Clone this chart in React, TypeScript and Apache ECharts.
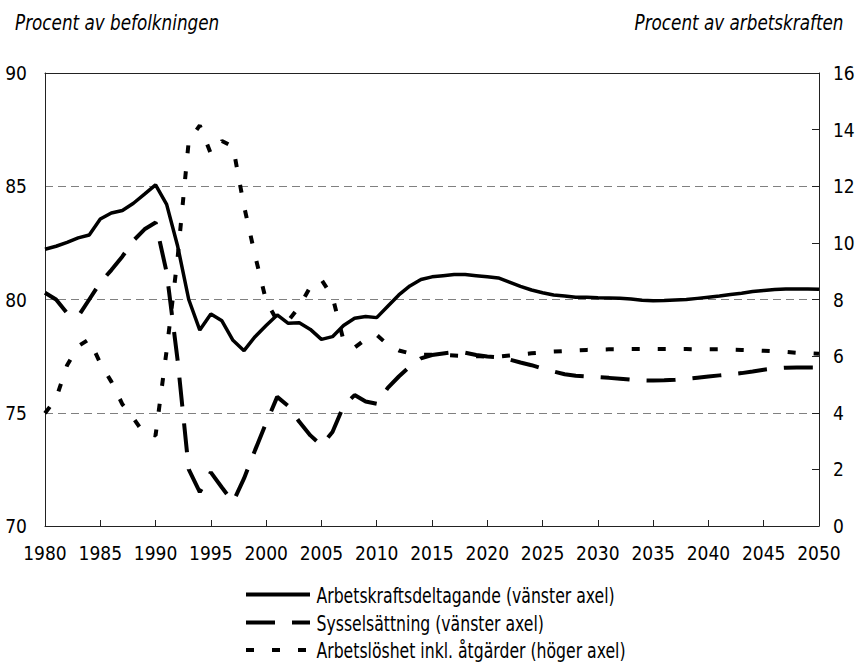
import React, { useEffect, useRef } from "react";
import * as echarts from "echarts";

const years = [
  1980, 1981, 1982, 1983, 1984, 1985, 1986, 1987, 1988, 1989,
  1990, 1991, 1992, 1993, 1994, 1995, 1996, 1997, 1998, 1999,
  2000, 2001, 2002, 2003, 2004, 2005, 2006, 2007, 2008, 2009,
  2010, 2011, 2012, 2013, 2014, 2015, 2016, 2017, 2018, 2019,
  2020, 2021, 2022, 2023, 2024, 2025, 2026, 2027, 2028, 2029,
  2030, 2031, 2032, 2033, 2034, 2035, 2036, 2037, 2038, 2039,
  2040, 2041, 2042, 2043, 2044, 2045, 2046, 2047, 2048, 2049,
  2050,
];

// Arbetskraftsdeltagande (vänster axel)
const participation = [
  82.22, 82.35, 82.52, 82.72, 82.85, 83.55, 83.82, 83.93, 84.25, 84.65,
  85.06, 84.2, 82.35, 80.0, 78.65, 79.36, 79.06, 78.2, 77.74, 78.36,
  78.85, 79.32, 78.95, 78.97, 78.68, 78.24, 78.36, 78.85, 79.17, 79.25,
  79.2, 79.7, 80.2, 80.6, 80.88, 81.0, 81.05, 81.1, 81.1, 81.05,
  81.0, 80.95, 80.77, 80.58, 80.42, 80.3, 80.2, 80.15, 80.1, 80.1,
  80.08, 80.07, 80.05, 80.02, 79.97, 79.95, 79.96, 79.98, 80.0, 80.05,
  80.1, 80.15, 80.22, 80.28, 80.35, 80.4, 80.44, 80.46, 80.46, 80.46,
  80.45,
];

// Sysselsättning (vänster axel)
const employment = [
  80.3, 80.0, 79.4, 79.25, 80.0, 80.75, 81.3, 81.9, 82.6, 83.1,
  83.4, 81.2, 77.3, 72.5, 71.5, 72.37, 71.7, 71.05, 72.1, 73.35,
  74.55, 75.7, 75.3, 74.6, 74.0, 73.55, 74.15, 75.3, 75.78, 75.5,
  75.4, 76.1, 76.6, 77.05, 77.4, 77.55, 77.62, 77.68, 77.65, 77.55,
  77.48, 77.45, 77.35, 77.22, 77.1, 76.95, 76.82, 76.7, 76.63, 76.6,
  76.57, 76.54, 76.5, 76.46, 76.43, 76.42, 76.43, 76.46, 76.5, 76.55,
  76.6, 76.65, 76.7, 76.75, 76.82, 76.9, 76.96, 76.99, 77.0, 77.0,
  77.0,
];

// Arbetslöshet inkl. åtgärder (höger axel)
const unemployment = [
  3.98, 4.5, 5.68, 6.35, 6.6, 5.75, 5.1, 4.3, 3.8, 3.25,
  3.2, 6.2, 9.5, 13.6, 14.15, 13.15, 13.6, 13.4, 11.3, 9.55,
  7.95, 7.25, 7.25, 7.75, 8.45, 8.7, 8.1, 6.55, 6.3, 6.6,
  6.75, 6.4, 6.2, 6.1, 6.05, 6.05, 6.04, 6.02, 6.0, 6.0,
  5.98, 5.98, 6.02, 6.06, 6.1, 6.13, 6.16, 6.18, 6.2, 6.22,
  6.23, 6.24, 6.24, 6.25, 6.25, 6.25, 6.25, 6.25, 6.25, 6.24,
  6.24, 6.24, 6.23, 6.22, 6.21, 6.19, 6.17, 6.15, 6.12, 6.1,
  6.08,
];

const seriesNames = [
  "Arbetskraftsdeltagande (vänster axel)",
  "Sysselsättning (vänster axel)",
  "Arbetslöshet inkl. åtgärder (höger axel)",
];

const leftTitle = "Procent av befolkningen";
const rightTitle = "Procent av arbetskraften";

const FONT = '"DejaVu Sans Condensed", "DejaVu Sans", sans-serif';
const AXIS_COLOR = "#222";

const lineTypes: any[] = ["solid", [29, 17], [8, 18]];
const lineWidths = [3.5, 4, 4];

export default function App() {
  const ref = useRef<HTMLDivElement>(null);

  useEffect(() => {
    if (!ref.current) return;
    const chart = echarts.init(ref.current, undefined, { renderer: "svg" });
    const pairs = (vals: number[]) => years.map((y, i) => [y, vals[i]]);

    const labelStyle = {
      color: "#000",
      fontFamily: FONT,
      fontSize: 19,
    };

    const legendRowsY = [594.5, 622.5, 650];
    const legendGraphics: any[] = [];
    seriesNames.forEach((name, i) => {
      legendGraphics.push({
        type: "line",
        shape: { x1: 246, y1: legendRowsY[i], x2: 310, y2: legendRowsY[i] },
        style: {
          stroke: "#000",
          lineWidth: 4,
          lineDash: lineTypes[i] === "solid" ? null : lineTypes[i],
          lineCap: "butt",
        },
        silent: true,
      });
      legendGraphics.push({
        type: "text",
        x: 316.5,
        y: legendRowsY[i] + 0.5,
        scaleX: 0.85,
        style: {
          text: name,
          fill: "#000",
          fontFamily: FONT,
          fontSize: 20.5,
          lineHeight: 20,
          textAlign: "left",
          verticalAlign: "middle",
        },
        silent: true,
      });
    });

    chart.setOption({
      animation: false,
      backgroundColor: "#fff",
      graphic: [
        {
          type: "text",
          x: 15,
          y: 22.7,
          scaleX: 0.89,
          style: {
            text: leftTitle,
            fill: "#000",
            fontFamily: FONT,
            fontSize: 21,
            fontStyle: "italic",
            textAlign: "left",
            verticalAlign: "middle",
          },
          silent: true,
        },
        {
          type: "text",
          x: 843.5,
          y: 22.7,
          scaleX: 0.89,
          style: {
            text: rightTitle,
            fill: "#000",
            fontFamily: FONT,
            fontSize: 21,
            fontStyle: "italic",
            textAlign: "right",
            verticalAlign: "middle",
          },
          silent: true,
        },
        ...legendGraphics,
      ],
      grid: {
        left: 45,
        right: 39,
        top: 73,
        bottom: 138,
        containLabel: false,
      },
      xAxis: [
        {
          type: "value",
          position: "bottom",
          min: 1980,
          max: 2050,
          interval: 5,
          z: 10,
          axisLine: { show: true, lineStyle: { color: AXIS_COLOR, width: 1 } },
          axisTick: {
            show: true,
            inside: true,
            length: 6,
            lineStyle: { color: AXIS_COLOR, width: 1 },
          },
          axisLabel: {
            ...labelStyle,
            margin: 17,
            formatter: (v: number) => String(v),
          },
          splitLine: { show: false },
        },
        {
          type: "value",
          position: "top",
          min: 1980,
          max: 2050,
          interval: 5,
          z: 10,
          axisLine: { show: true, lineStyle: { color: AXIS_COLOR, width: 1 } },
          axisTick: { show: false },
          axisLabel: { show: false },
          splitLine: { show: false },
        },
      ],
      yAxis: [
        {
          type: "value",
          position: "left",
          min: 70,
          max: 90,
          interval: 5,
          axisLine: { show: true, lineStyle: { color: AXIS_COLOR, width: 1 } },
          axisTick: { show: false },
          axisLabel: { ...labelStyle, margin: 18 },
          splitLine: {
            show: true,
            lineStyle: { color: "#808080", width: 1, type: [8, 5] },
          },
        },
        {
          type: "value",
          position: "right",
          min: 0,
          max: 16,
          interval: 2,
          z: 10,
          axisLine: { show: true, lineStyle: { color: AXIS_COLOR, width: 1 } },
          axisTick: {
            show: true,
            inside: true,
            length: 7,
            lineStyle: { color: AXIS_COLOR, width: 1 },
          },
          axisLabel: { ...labelStyle, margin: 14 },
          splitLine: { show: false },
        },
      ],
      series: [
        {
          name: seriesNames[0],
          type: "line",
          yAxisIndex: 0,
          data: pairs(participation),
          symbol: "none",
          lineStyle: { color: "#000", width: lineWidths[0], type: lineTypes[0] },
          itemStyle: { color: "#000" },
        },
        {
          name: seriesNames[1],
          type: "line",
          yAxisIndex: 0,
          data: pairs(employment),
          symbol: "none",
          lineStyle: {
            color: "#000",
            width: lineWidths[1],
            type: lineTypes[1],
            cap: "butt",
          },
          itemStyle: { color: "#000" },
        },
        {
          name: seriesNames[2],
          type: "line",
          yAxisIndex: 1,
          data: pairs(unemployment),
          symbol: "none",
          lineStyle: {
            color: "#000",
            width: lineWidths[2],
            type: lineTypes[2],
            cap: "butt",
          },
          itemStyle: { color: "#000" },
        },
      ],
    });

    return () => chart.dispose();
  }, []);

  return (
    <div
      ref={ref}
      style={{
        position: "absolute",
        left: 0,
        top: 0,
        width: 858,
        height: 664,
        background: "#fff",
      }}
    />
  );
}
